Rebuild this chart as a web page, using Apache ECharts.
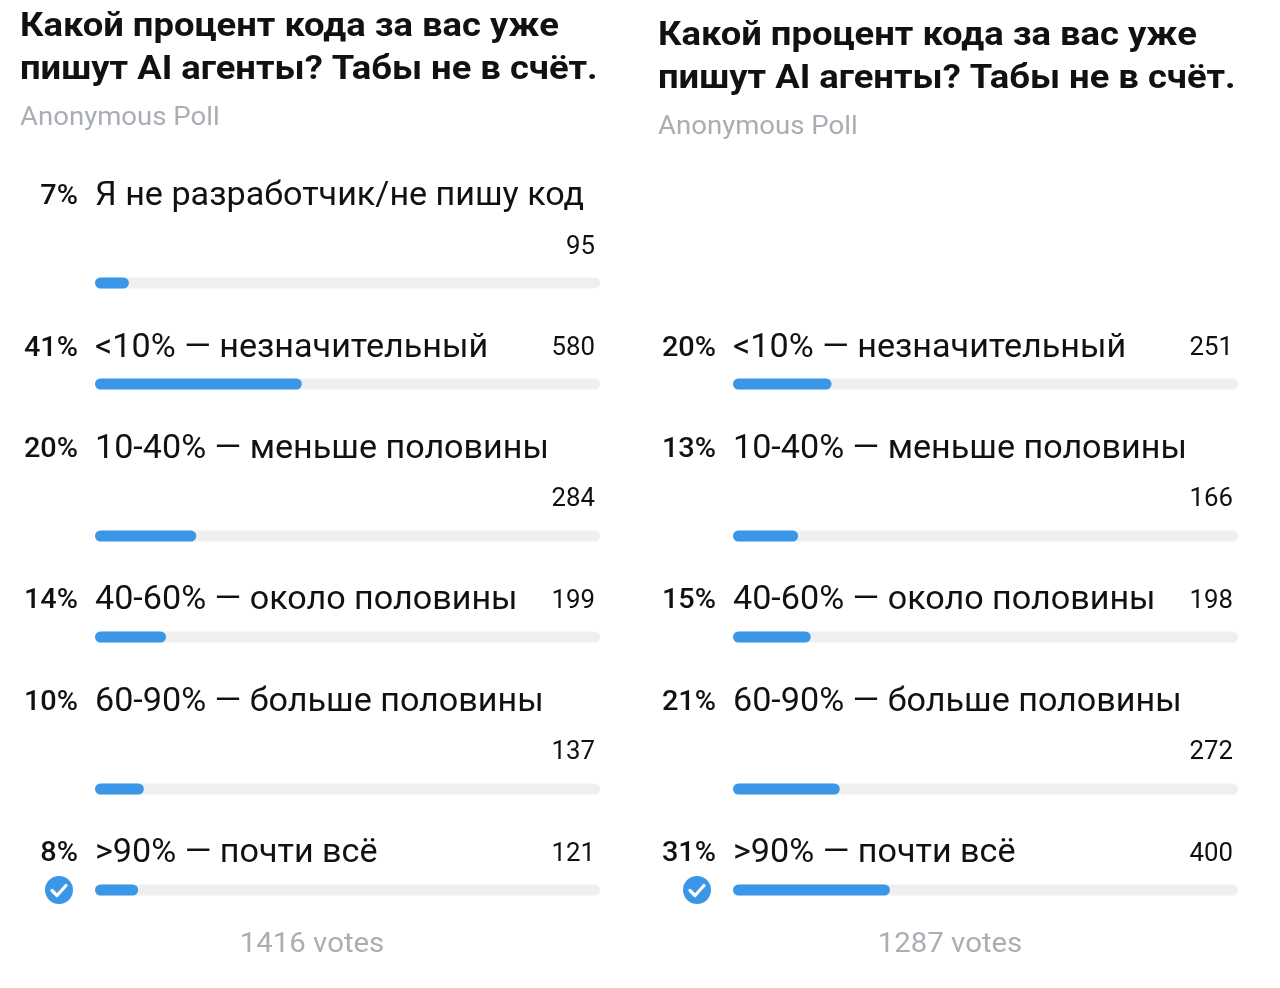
<!DOCTYPE html>
<html>
<head>
<meta charset="utf-8">
<title>Poll</title>
<script src="https://cdn.jsdelivr.net/npm/echarts@6.0.0/dist/echarts.min.js"></script>
<style>
  html, body { margin: 0; padding: 0; background: #fff; }
  #chart { width: 1280px; height: 988px; }
</style>
</head>
<body>
<div id="chart"></div>
<script>
// данные опросов
var question = ['Какой процент кода за вас уже', 'пишут AI агенты? Табы не в счёт.'];
var pollType = 'Anonymous Poll';

var answersLeft = ['Я не разработчик/не пишу код', '<10% — незначительный', '10-40% — меньше половины',
  '40-60% — около половины', '60-90% — больше половины', '>90% — почти всё'];
var votesLeft = [95, 580, 284, 199, 137, 121];
var percentLeft = [7, 41, 20, 14, 10, 8];

var answersRight = ['<10% — незначительный', '10-40% — меньше половины', '40-60% — около половины',
  '60-90% — больше половины', '>90% — почти всё'];
var votesRight = [251, 166, 198, 272, 400];
var percentRight = [20, 13, 15, 21, 31];

// вёрстка строк (y центра текста / полосы / числа)
var textY = [197, 349, 450, 601, 703, 854];
var barY = [283, 384, 536, 637, 789, 890];
var countY = [248, 349, 500, 602, 753, 855];

var BLUE = '#3a96e6';
var TRACK = '#efefef';
var GREY = '#a9aeb4';
var FONT = 'Roboto, "Noto Sans", sans-serif';

var myChart = echarts.init(document.getElementById('chart'));

var grids = [], xAxes = [], yAxes = [], series = [], graphics = [];

function txt(s, x, y, size, weight, color, align, sx) {
  graphics.push({
    type: 'text',
    x: x, y: y,
    scaleX: sx || 1,
    style: {
      text: s, x: 0, y: 0,
      fontSize: size, fontWeight: weight, fontFamily: FONT,
      fill: color,
      align: align || 'left', verticalAlign: 'middle',
      textAlign: align || 'left', textVerticalAlign: 'middle'
    }
  });
}

function check(cx, cy) {
  graphics.push({
    type: 'circle',
    shape: { cx: cx, cy: cy, r: 15 },
    style: { fill: BLUE, stroke: '#fff', lineWidth: 2 }
  });
  graphics.push({
    type: 'polyline',
    shape: { points: [[cx - 7, cy + 0.5], [cx - 2, cy + 5.5], [cx + 7, cy - 4.5]] },
    style: { stroke: '#fff', lineWidth: 3.2, fill: null, lineCap: 'round', lineJoin: 'round' }
  });
}

function poll(dx, dy, answers, votes, percent, rowOffset) {
  var total = votes.reduce(function (a, b) { return a + b; }, 0);

  txt(question[0], dx + 20, 27 + dy, 34, 'bold', '#111', 'left', 1.07);
  txt(question[1], dx + 20, 70 + dy, 34, 'bold', '#111', 'left', 1.07);
  txt(pollType, dx + 20, 118 + dy, 26, 'normal', GREY, 'left', 1.06);

  answers.forEach(function (name, i) {
    var r = i + rowOffset;
    txt(percent[i] + '%', dx + 78, textY[r], 28, 500, '#111', 'right', 1.03);
    txt(name, dx + 95, textY[r], 32.5, 'normal', '#111', 'left', 1.05);
    txt(String(votes[i]), dx + 595, countY[r], 25, 'normal', '#111', 'right', 1.03);

    var g = grids.length;
    grids.push({ left: dx + 95, top: barY[r] - 5.5, width: 505, height: 11 });
    xAxes.push({ type: 'value', gridIndex: g, min: 0, max: total, show: false });
    yAxes.push({ type: 'category', gridIndex: g, data: [name], show: false });
    series.push({
      type: 'bar',
      xAxisIndex: g,
      yAxisIndex: g,
      data: [votes[i]],
      barWidth: 11,
      silent: true,
      itemStyle: { color: BLUE, borderRadius: 5.5 },
      showBackground: true,
      backgroundStyle: { color: TRACK, borderRadius: 5.5 }
    });
  });

  // отмеченный вариант — последний
  check(dx + 59, barY[answers.length - 1 + rowOffset]);

  txt(total + ' votes', dx + 312, 945, 28, 'normal', GREY, 'center', 1.05);
}

poll(0, 0, answersLeft, votesLeft, percentLeft, 0);
poll(638, 9, answersRight, votesRight, percentRight, 1);

var option = {
  animation: false,
  backgroundColor: '#fff',
  grid: grids,
  xAxis: xAxes,
  yAxis: yAxes,
  series: series,
  graphic: { elements: graphics }
};

myChart.setOption(option);
</script>
</body>
</html>
